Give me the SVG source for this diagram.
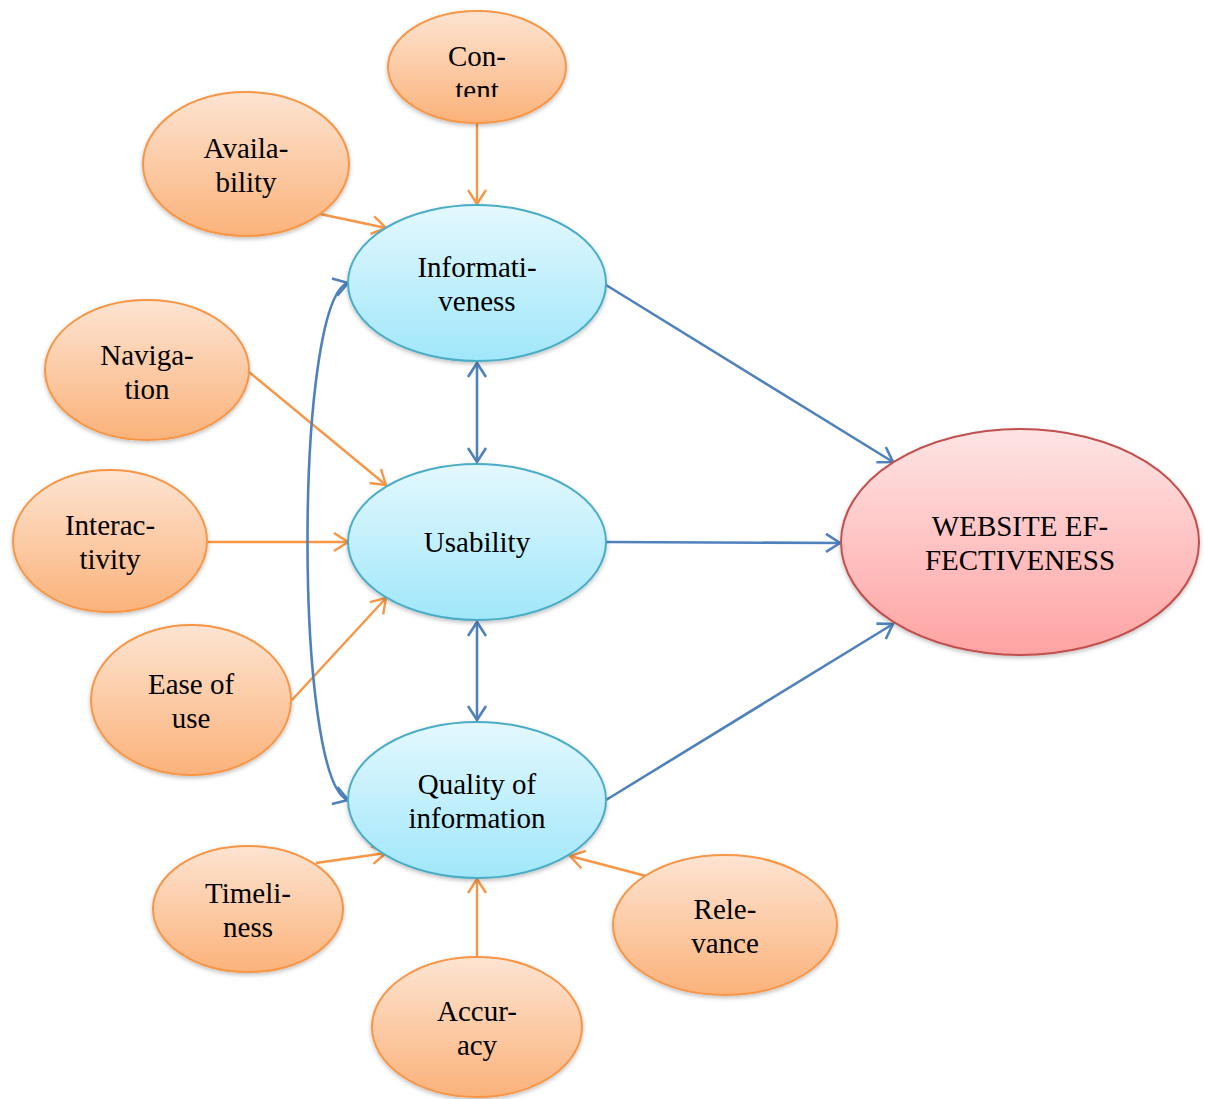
<svg xmlns="http://www.w3.org/2000/svg" width="1205" height="1099" viewBox="0 0 1205 1099">
<defs>
<linearGradient id="gO" x1="0" y1="0" x2="0" y2="1"><stop offset="0" stop-color="#fde4d2"/><stop offset="1" stop-color="#fbb27a"/></linearGradient>
<linearGradient id="gB" x1="0" y1="0" x2="0" y2="1"><stop offset="0" stop-color="#e4f8fe"/><stop offset="1" stop-color="#a0e7fa"/></linearGradient>
<linearGradient id="gR" x1="0" y1="0" x2="0" y2="1"><stop offset="0" stop-color="#fee4e4"/><stop offset="1" stop-color="#ffa3a3"/></linearGradient>
<filter id="sh" x="-10%" y="-10%" width="120%" height="125%"><feDropShadow dx="0" dy="2" stdDeviation="2" flood-color="#000" flood-opacity="0.25"/></filter>
<marker id="aO" viewBox="0 0 24 24" refX="22" refY="12" markerWidth="24" markerHeight="24" markerUnits="userSpaceOnUse" orient="auto-start-reverse"><path d="M8 3 L22 12 L8 21" fill="none" stroke="#f79646" stroke-width="2.4"/></marker>
<marker id="aB" viewBox="0 0 24 24" refX="22" refY="12" markerWidth="24" markerHeight="24" markerUnits="userSpaceOnUse" orient="auto-start-reverse"><path d="M8 3 L22 12 L8 21" fill="none" stroke="#4f81bd" stroke-width="2.6"/></marker>
<clipPath id="clipC"><rect x="380" y="0" width="200" height="97"/></clipPath>
</defs>
<style>
.o{fill:url(#gO);stroke:#f79646;stroke-width:2;filter:url(#sh)}
.b{fill:url(#gB);stroke:#4bacc6;stroke-width:2;filter:url(#sh)}
.r{fill:url(#gR);stroke:#c0504d;stroke-width:2;filter:url(#sh)}
text{font-family:"Liberation Serif","Times New Roman",serif;font-size:29px;fill:#000;text-anchor:middle}
.co{fill:none;stroke:#f79646;stroke-width:2.4;marker-end:url(#aO)}
.cb{fill:none;stroke:#4f81bd;stroke-width:2.6;marker-end:url(#aB)}
.cbb{fill:none;stroke:#4f81bd;stroke-width:2.6;marker-end:url(#aB);marker-start:url(#aB)}
</style>
<rect width="1205" height="1099" fill="#fff"/>
<g id="connectors">
<path class="co" d="M477 123 L477 204"/>
<path class="co" d="M320 214 L386 228"/>
<path class="co" d="M249 372 L386 485"/>
<path class="co" d="M207 542 L348 542"/>
<path class="co" d="M292 700 L386 598"/>
<path class="co" d="M316 863 L386 853"/>
<path class="co" d="M477 957 L477 879"/>
<path class="co" d="M646 876 L570 856"/>
<path class="cbb" d="M477 363 L477 462"/>
<path class="cbb" d="M477 622 L477 720"/>
<path class="cb" d="M606 285 L893 462"/>
<path class="cb" d="M606 542 L840 543"/>
<path class="cb" d="M606 800 L893 624"/>
<path class="cbb" d="M348 283 C 294 300, 294 782, 348 800"/>
</g>
<g id="content"><ellipse class="o" cx="477" cy="67" rx="89" ry="56"/><text x="477" y="66">Con-</text><text x="477" y="100" clip-path="url(#clipC)">tent</text></g>
<g id="availability"><ellipse class="o" cx="246" cy="164" rx="103" ry="72"/><text x="246" y="158">Availa-</text><text x="246" y="192">bility</text></g>
<g id="informativeness"><ellipse class="b" cx="477" cy="283" rx="129" ry="78"/><text x="477" y="277">Informati-</text><text x="477" y="311">veness</text></g>
<g id="navigation"><ellipse class="o" cx="147" cy="370" rx="102" ry="70"/><text x="147" y="365">Naviga-</text><text x="147" y="399">tion</text></g>
<g id="interactivity"><ellipse class="o" cx="110" cy="541" rx="97" ry="71"/><text x="110" y="535">Interac-</text><text x="110" y="569">tivity</text></g>
<g id="usability"><ellipse class="b" cx="477" cy="542" rx="129" ry="78"/><text x="477" y="552">Usability</text></g>
<g id="ease"><ellipse class="o" cx="191" cy="700" rx="100" ry="75"/><text x="191" y="694">Ease of</text><text x="191" y="728">use</text></g>
<g id="quality"><ellipse class="b" cx="477" cy="800" rx="129" ry="78"/><text x="477" y="794">Quality of</text><text x="477" y="828">information</text></g>
<g id="timeliness"><ellipse class="o" cx="248" cy="909" rx="95" ry="63"/><text x="248" y="903">Timeli-</text><text x="248" y="937">ness</text></g>
<g id="accuracy"><ellipse class="o" cx="477" cy="1027" rx="105" ry="70"/><text x="477" y="1021">Accur-</text><text x="477" y="1055">acy</text></g>
<g id="relevance"><ellipse class="o" cx="725" cy="925" rx="112" ry="70"/><text x="725" y="919">Rele-</text><text x="725" y="953">vance</text></g>
<g id="website"><ellipse class="r" cx="1020" cy="542" rx="179" ry="113"/><text x="1020" y="536">WEBSITE EF-</text><text x="1020" y="570">FECTIVENESS</text></g>
</svg>
